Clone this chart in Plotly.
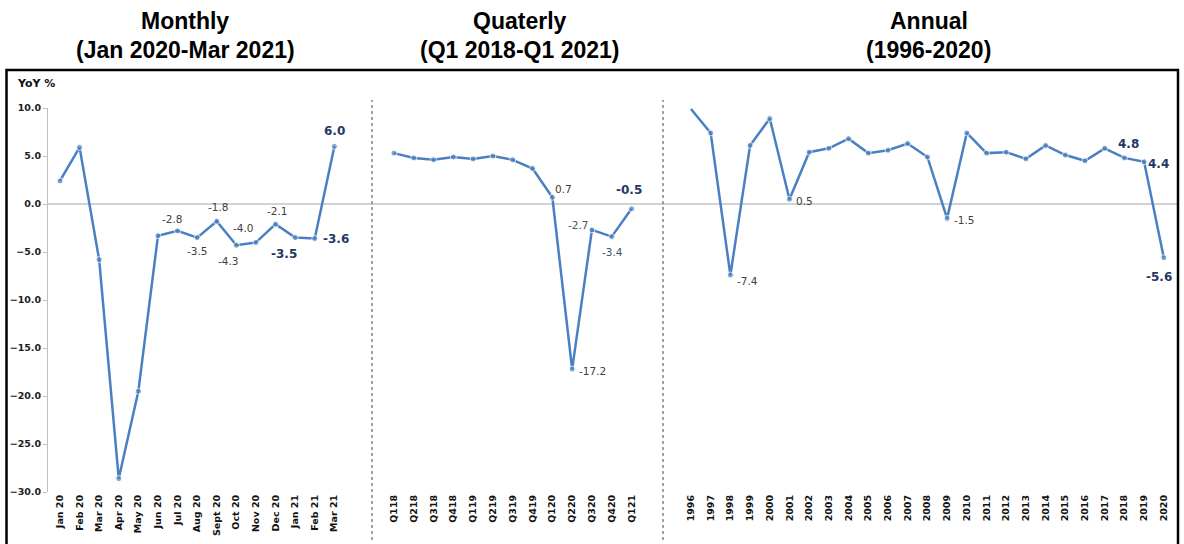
import plotly.graph_objects as go

# ---------------- data ----------------
months = ["Jan 20", "Feb 20", "Mar 20", "Apr 20", "May 20", "Jun 20", "Jul 20",
          "Aug 20", "Sept 20", "Oct 20", "Nov 20", "Dec 20", "Jan 21", "Feb 21", "Mar 21"]
monthly = [2.4, 5.9, -5.8, -28.6, -19.5, -3.3, -2.8, -3.5, -1.8, -4.3, -4.0, -2.1, -3.5, -3.6, 6.0]

quarters = ["Q118", "Q218", "Q318", "Q418", "Q119", "Q219", "Q319", "Q419",
            "Q120", "Q220", "Q320", "Q420", "Q121"]
quarterly = [5.3, 4.8, 4.6, 4.9, 4.7, 5.0, 4.6, 3.7, 0.7, -17.2, -2.7, -3.4, -0.5]

years = [str(y) for y in range(1996, 2021)]
annual = [9.9, 7.4, -7.4, 6.1, 8.9, 0.5, 5.4, 5.8, 6.8, 5.3, 5.6, 6.3, 4.9, -1.5,
          7.4, 5.3, 5.4, 4.7, 6.1, 5.1, 4.5, 5.8, 4.8, 4.4, -5.6]

# labelled points: (index, style)  style: n=normal, b=bold, q=navy regular
monthly_labels = [(6, "n"), (7, "n"), (8, "n"), (9, "n"), (10, "n"), (11, "n"),
                  (12, "b"), (13, "b"), (14, "b")]
quarterly_labels = [(8, "n"), (9, "n"), (10, "q"), (11, "q"), (12, "b")]
annual_labels = [(2, "n"), (5, "n"), (13, "n"), (22, "b"), (23, "b"), (24, "b")]

# label offsets in pixels (xshift, yshift)
monthly_offsets = [(-5, 12), (0, -13), (2, 14), (-8, -16), (-12, 14), (2, 13), (-11, -16), (21, 0), (0, 15)]
quarterly_offsets = [(11, 8), (20, -2), (-13, 5), (1, -15), (-3, 19)]
annual_offsets = [(17, -6), (15, -2), (17, -2), (4, 14), (14, -2), (-5, -19)]

# ---------------- layout geometry (pixels) ----------------
W, H = 1184, 544
ML, MR, MT, MB = 48, 6, 108, 52
PW = W - ML - MR
PH = H - MT - MB


def px(x):
    return (x - ML) / PW


def py(y):
    return (H - MB - y) / PH


d1, d2 = px(372), px(663)

LINE = "#4A80C2"
BOLD_C = "#1F3864"
NORM_C = "#404040"
NAVY_C = "#44546A"

fig = go.Figure()

panels = [
    (months, monthly, "x", "xaxis", [0, d1], [-0.61, 15.92], monthly_labels, monthly_offsets, None),
    (quarters, quarterly, "x2", "xaxis2", [d1, d2], [-1.11, 13.59], quarterly_labels, quarterly_offsets, None),
    (years, annual, "x3", "xaxis3", [d2, 1], [-1.42, 24.72], annual_labels, annual_offsets, 0),
]

annotations = []
for cats, vals, xref, axname, dom, rng, labs, offs, nomarker in panels:
    sizes = [6] * len(vals)
    if nomarker is not None:
        sizes[nomarker] = 0
    fig.add_trace(go.Scatter(
        x=cats, y=vals, xaxis=xref, yaxis="y", mode="lines+markers",
        line=dict(color=LINE, width=2.5),
        marker=dict(color=LINE, size=sizes),
        showlegend=False, hoverinfo="x+y",
    ))
    fig.layout[axname] = dict(
        domain=dom, type="category", range=rng, anchor="y",
        tickmode="linear", dtick=1, tickangle=-90,
        tickfont=dict(family="DejaVu Sans", size=9.5, color="#111111", weight="bold"),
        showgrid=False, zeroline=False, showline=False, ticks="",
        fixedrange=True,
    )
    for (i, style), (dx, dy) in zip(labs, offs):
        if style == "b":
            font = dict(family="DejaVu Sans", size=12, color=BOLD_C, weight="bold")
        elif style == "q":
            font = dict(family="DejaVu Sans", size=10.5, color=NAVY_C)
        else:
            font = dict(family="DejaVu Sans", size=10.5, color=NORM_C)
        annotations.append(dict(
            x=i, y=vals[i], xref=xref, yref="y", text=f"{vals[i]:.1f}",
            showarrow=False, xshift=dx, yshift=dy, font=font,
            xanchor="center", yanchor="middle",
        ))

fig.update_layout(
    yaxis=dict(
        range=[-30, 10], dtick=5, tickformat=".1f", anchor="x", domain=[0, 1],
        showgrid=False, zeroline=False, showline=True, linecolor="#BFBFBF", linewidth=1,
        ticks="outside", ticklen=4, tickcolor="#BFBFBF",
        tickfont=dict(family="DejaVu Sans", size=9.5, color="#222222", weight="bold"),
        fixedrange=True,
    ),
)

# titles
title_font = dict(family="Liberation Sans, Arial", size=23, color="black", weight="bold")
for xc, l1, l2 in [(185, "Monthly", "(Jan 2020-Mar 2021)"),
                   (519.5, "Quaterly", "(Q1 2018-Q1 2021)"),
                   (928.5, "Annual", "(1996-2020)")]:
    annotations.append(dict(x=px(xc), y=py(21), xref="paper", yref="paper", text=l1,
                            showarrow=False, font=title_font, xanchor="center", yanchor="middle"))
    annotations.append(dict(x=px(xc), y=py(50), xref="paper", yref="paper", text=l2,
                            showarrow=False, font=title_font, xanchor="center", yanchor="middle"))

annotations.append(dict(x=px(15), y=py(83.5), xref="paper", yref="paper", text="YoY %",
                        showarrow=False, xanchor="left", yanchor="middle",
                        font=dict(family="DejaVu Sans", size=11, color="#111111", weight="bold")))

shapes = [
    # zero line across all panels
    dict(type="line", xref="paper", yref="y", x0=0, x1=px(1178), y0=0, y1=0,
         line=dict(color="#A6A6A6", width=1.2), layer="below"),
    # dotted dividers
    dict(type="line", xref="paper", yref="paper", x0=d1, x1=d1, y0=py(540), y1=py(100),
         line=dict(color="#666666", width=1.2, dash="dot")),
    dict(type="line", xref="paper", yref="paper", x0=d2, x1=d2, y0=py(540), y1=py(100),
         line=dict(color="#666666", width=1.2, dash="dot")),
    # outer frame
    dict(type="rect", xref="paper", yref="paper", x0=px(6.5), x1=px(1178), y0=py(560), y1=py(70),
         line=dict(color="black", width=2.5)),
]

fig.update_layout(
    width=W, height=H,
    margin=dict(l=ML, r=MR, t=MT, b=MB, pad=0),
    paper_bgcolor="white", plot_bgcolor="white",
    annotations=annotations, shapes=shapes,
    showlegend=False,
)

fig.write_html("out.html", config={"displayModeBar": False},
               post_script="document.body.style.margin='0px';")
